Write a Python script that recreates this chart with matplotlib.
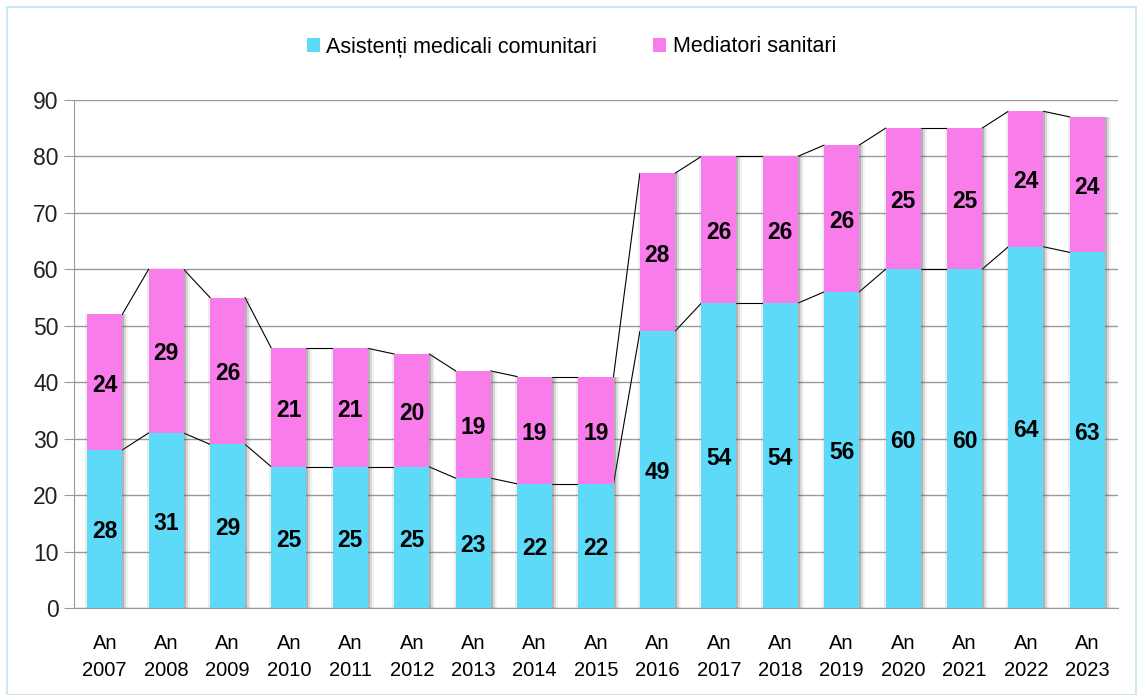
import matplotlib.pyplot as plt
from matplotlib.patches import Rectangle
import numpy as np

years = ["2007", "2008", "2009", "2010", "2011", "2012", "2013", "2014", "2015",
         "2016", "2017", "2018", "2019", "2020", "2021", "2022", "2023"]
asistenti = [28, 31, 29, 25, 25, 25, 23, 22, 22, 49, 54, 54, 56, 60, 60, 64, 63]
mediatori = [24, 29, 26, 21, 21, 20, 19, 19, 19, 28, 26, 26, 26, 25, 25, 24, 24]
labels = ["An\n" + y for y in years]

c_asist = "#5DDAF8"
c_med = "#F87CEA"
font = ["Liberation Sans", "DejaVu Sans"]

fig = plt.figure(figsize=(11.43, 6.95), dpi=100)
ax = fig.add_axes([74 / 1143, 87 / 695, (1118 - 74) / 1143, (608 - 100) / 695])

x = np.arange(len(years))
w = 0.57
tot = np.array(asistenti) + np.array(mediatori)

# soft shadow around each stacked bar, stronger on the right
px = 1 / 61.4
for off, a in ((-2, 0.10), (2, 0.28), (4, 0.16), (6, 0.07)):
    ax.bar(x + off * px, tot, w, color="#555555", alpha=a, zorder=2.5, lw=0)

ax.bar(x, asistenti, w, color=c_asist, zorder=3, label="Asistenți medicali comunitari")
ax.bar(x, mediatori, w, bottom=asistenti, color=c_med, zorder=3, label="Mediatori sanitari")

# series lines between bar edges (Excel style)
for ys in (np.array(asistenti), tot):
    for i in range(len(x) - 1):
        ax.plot([x[i] + w / 2, x[i + 1] - w / 2], [ys[i], ys[i + 1]],
                color="black", lw=0.8, zorder=2)

for i in range(len(x)):
    ax.text(x[i], asistenti[i] / 2 - 0.5, str(asistenti[i]), ha="center", va="center",
            fontsize=16.5, fontweight="bold", family=font, zorder=4)
    ax.text(x[i], asistenti[i] + mediatori[i] / 2 - 0.5, str(mediatori[i]), ha="center",
            va="center", fontsize=16.5, fontweight="bold", family=font, zorder=4)

ax.set_xlim(-0.5, len(x) - 0.5)
ax.set_ylim(0, 90)
ax.set_yticks(range(0, 91, 10))
ax.yaxis.grid(True, color="#9a9a9a", lw=1, zorder=0)
ax.set_axisbelow(True)
for s in ("top", "right"):
    ax.spines[s].set_visible(False)
ax.spines["left"].set_color("#9a9a9a")
ax.spines["bottom"].set_color("#9a9a9a")
ax.set_xticks(x)
ax.set_xticklabels(labels, fontsize=14.5, family=font, linespacing=1.5)
ax.tick_params(axis="x", length=0, pad=19)
ax.tick_params(axis="y", length=7, color="#9a9a9a", labelsize=16.5, pad=4)
for t in ax.get_yticklabels():
    t.set_family(font)
    t.set_color("#222222")

fig.legend(loc="center", bbox_to_anchor=(0.5, 1 - 47 / 695), ncol=2, frameon=False,
           handlelength=0.6, handleheight=0.6, handletextpad=0.3,
           columnspacing=2.6, prop={"family": font, "size": 15.5})

fig.patches.append(Rectangle((7 / 1143, 0), 1 - 14 / 1143, 1 - 7 / 695, transform=fig.transFigure,
                             fill=False, edgecolor="#bfe6f0", lw=1.2))

fig.savefig("out.png", dpi=100)
